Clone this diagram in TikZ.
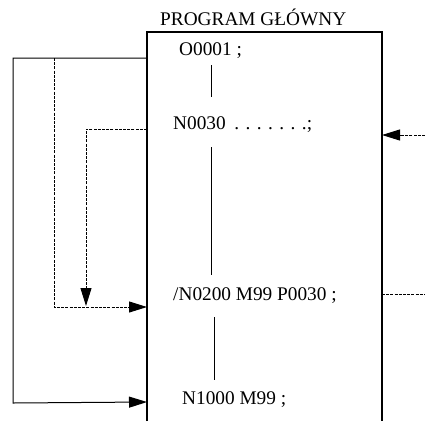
\documentclass[tikz,border=0pt]{standalone}
\usepackage{fontspec}
\setmainfont{Liberation Serif}
\usetikzlibrary{arrows.meta}
\begin{document}
\begin{tikzpicture}[x=1pt,y=-1pt,
  txt/.style={anchor=base west,inner sep=0pt,font=\fontsize{19.3}{21}\selectfont},
  boxline/.style={line width=1.2pt},
  solidline/.style={line width=1pt},
  dashline/.style={line width=1pt,dash pattern=on 3pt off 1.2pt},
  arr/.style={-{Triangle[length=18pt,width=11pt]}}]
\useasboundingbox (0,0) rectangle (425,421);
% box
\draw[boxline] (147,421) -- (147,32) -- (382,32) -- (382,421);
% texts
\node[txt] (title) at (160,25.5) {PROGRAM GŁÓWNY};
\node[txt] (o1) at (179,55) {O0001 ;};
\node[txt] (n30) at (173,129) {N0030\hspace{0.45em}. . . . . . .;};
\node[txt] (n200) at (173,300) {/N0200 M99 P0030 ;};
\node[txt] (n1000) at (182,404) {N1000 M99 ;};
% flow bars inside box
\coordinate (v1a) at (211,65); \coordinate (v1b) at (211,97);
\coordinate (v2a) at (211,147); \coordinate (v2b) at (211,275);
\coordinate (v3a) at (214,317); \coordinate (v3b) at (214,380);
\draw[solidline] (v1a) -- (v1b);
\draw[solidline] (v2a) -- (v2b);
\draw[solidline] (v3a) -- (v3b);
% left solid loop
\coordinate (ls) at (147,58);
\coordinate (lc) at (13,58);
\coordinate (lb) at (13,403);
\coordinate (la) at (147,402);
\draw[solidline,arr] (ls) -- (lc) -- (lb) -- (la);
% dashed loop 1
\coordinate (d1s) at (54,58);
\coordinate (d1c) at (54,307);
\coordinate (d1e) at (147,307);
\draw[dashline,arr] (d1s) -- (d1c) -- (d1e);
% dashed loop 2
\coordinate (d2s) at (147,129);
\coordinate (d2c) at (86,129);
\coordinate (d2e) at (86,306);
\draw[dashline,arr] (d2s) -- (d2c) -- (d2e);
% right side
\coordinate (ri) at (425,135);
\coordinate (re) at (382,135);
\draw[dashline,arr] (ri) -- (re);
\coordinate (ro) at (382,294);
\coordinate (rx) at (425,294);
\draw[dashline] (ro) -- (rx);
\end{tikzpicture}
\end{document}
